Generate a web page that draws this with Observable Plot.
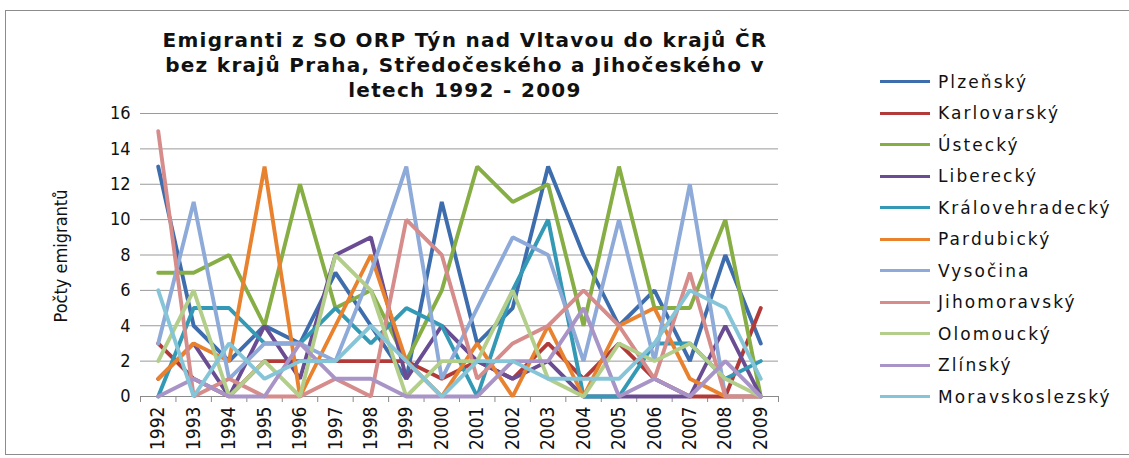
<!DOCTYPE html>
<html><head><meta charset="utf-8">
<script src="https://cdn.jsdelivr.net/npm/d3@7"></script>
<script src="https://cdn.jsdelivr.net/npm/@observablehq/plot@0.6"></script>
<style>
html,body{margin:0;padding:0;background:#fff;}
#wrap{position:relative;width:1129px;height:458px;overflow:hidden;}
#frame{position:absolute;left:5px;top:10px;width:1140px;height:445px;border:1px solid #8c8c8c;box-sizing:border-box;}
#title{position:absolute;left:65px;top:28px;width:800px;text-align:center;font-family:"DejaVu Sans",sans-serif;font-weight:bold;font-size:20px;line-height:25px;color:#111;letter-spacing:1.3px;}
#chart{position:absolute;left:0;top:0;}
#legend{position:absolute;left:880px;top:66px;font-family:"DejaVu Sans",sans-serif;font-size:17px;color:#111;letter-spacing:2.1px;}
.li{height:31.5px;display:flex;align-items:center;}
.sw{width:50px;height:3px;margin-right:8px;}
#ylab{position:absolute;left:60px;top:256px;transform:translate(-50%,-50%) rotate(-90deg);font-family:"Liberation Sans Narrow","DejaVu Sans Condensed",sans-serif;font-size:18px;white-space:nowrap;color:#111;}
</style></head>
<body>
<div id="wrap">
<div id="frame"></div>
<div id="chart"></div>
<div id="title">Emigranti z SO ORP Týn nad Vltavou do krajů ČR<br>bez krajů Praha, Středočeského a Jihočeského v<br>letech 1992 - 2009</div>
<div id="ylab">Počty emigrantů</div>
<div id="legend"></div>
</div>
<script>
const years = [1992,1993,1994,1995,1996,1997,1998,1999,2000,2001,2002,2003,2004,2005,2006,2007,2008,2009];
const yTicks = [0,2,4,6,8,10,12,14,16];
const seriesNames = ["Plzeňský","Karlovarský","Ústecký","Liberecký","Královehradecký","Pardubický","Vysočina","Jihomoravský","Olomoucký","Zlínský","Moravskoslezský"];
const seriesColors = ["#3E6DAD","#B23B39","#86AE45","#6A4C93","#3399B5","#E8822F","#8EAAD8","#D58C8A","#B3CE8A","#A894C6","#86C5D8"];
const plzensky        = [13,4,2,4,3,7,4,1,11,3,5,13,8,4,6,2,8,3];
const karlovarsky     = [3,1,0,2,2,2,2,2,1,2,1,3,1,3,1,0,0,5];
const ustecky         = [7,7,8,4,12,5,6,2,6,13,11,12,4,13,5,5,10,0];
const liberecky       = [1,3,0,4,1,8,9,1,4,2,1,2,0,0,0,0,4,0];
const kralovehradecky = [0,5,5,3,3,5,3,5,4,0,6,10,0,0,3,3,1,2];
const pardubicky      = [1,3,2,13,0,4,8,2,0,3,0,4,0,4,5,1,0,0];
const vysocina        = [3,11,1,3,3,2,7,13,1,5,9,8,2,10,2,12,0,0];
const jihomoravsky    = [15,0,1,0,0,1,0,10,8,1,3,4,6,4,1,7,0,0];
const olomoucky       = [2,6,0,2,0,8,6,0,2,2,6,1,0,3,2,3,1,0];
const zlinsky         = [0,1,0,0,3,1,1,0,0,0,2,2,5,0,1,0,2,0];
const moravskoslezsky = [6,0,3,1,2,2,4,2,0,2,2,1,1,1,3,6,5,1];
const seriesValues = [plzensky,karlovarsky,ustecky,liberecky,kralovehradecky,pardubicky,vysocina,jihomoravsky,olomoucky,zlinsky,moravskoslezsky];

const boundaries = [years[0]-0.5, ...years.map(y => y+0.5)];
const lineMarks = seriesValues.map((vals, i) =>
  Plot.line(years.map((yr, j) => ({year: yr, value: vals[j]})),
    {x: "year", y: "value", stroke: seriesColors[i], strokeWidth: 3.9, strokeLinejoin: "miter", strokeLinecap: "round"}));

const chart = Plot.plot({
  width: 790, height: 458,
  marginTop: 113, marginBottom: 62, marginLeft: 140, marginRight: 12,
  style: {fontFamily: '"Liberation Sans Narrow","DejaVu Sans Condensed",sans-serif', background: "transparent", color: "#111"},
  x: {type: "linear", domain: [years[0]-0.5, years[years.length-1]+0.5]},
  y: {domain: [0, 16]},
  marks: [
    Plot.gridY(yTicks.slice(1), {stroke: "#9a9a9a", strokeOpacity: 1, strokeWidth: 1}),
    Plot.ruleY([0], {stroke: "#8a8a8a", strokeWidth: 1}),
    Plot.axisX(boundaries, {tickSize: 6, tickFormat: () => "", stroke: "#8a8a8a", label: null}),
    Plot.axisX(years, {tickSize: 0, tickPadding: 10, tickRotate: -90, tickFormat: d => String(d), fontSize: 19, label: null}),
    Plot.axisY(yTicks, {tickSize: 0, tickPadding: 10, fontSize: 18, label: null}),
    ...lineMarks
  ]
});
document.getElementById("chart").appendChild(chart);

const leg = document.getElementById("legend");
seriesNames.forEach((n, i) => {
  const d = document.createElement("div"); d.className = "li";
  const s = document.createElement("span"); s.className = "sw"; s.style.background = seriesColors[i];
  const t = document.createElement("span"); t.textContent = n;
  d.appendChild(s); d.appendChild(t); leg.appendChild(d);
});
</script>
</body></html>
